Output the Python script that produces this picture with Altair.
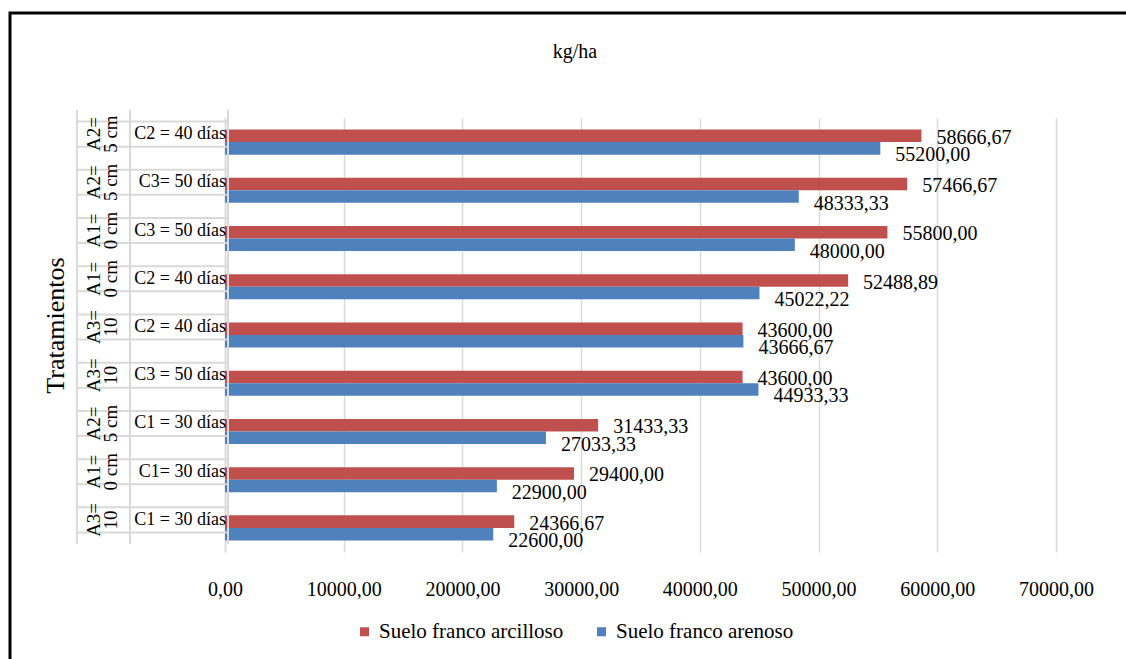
import altair as alt
import pandas as pd

FONT = "Liberation Serif, Times New Roman, serif"

rows = ["r1", "r2", "r3", "r4", "r5", "r6", "r7", "r8", "r9"]
a_labels = ["A2=\n5 cm", "A2=\n5 cm", "A1=\n0 cm", "A1=\n0 cm", "A3=\n10",
            "A3=\n10", "A2=\n5 cm", "A1=\n0 cm", "A3=\n10"]
c_labels = ["C2 = 40 días", "C3= 50 días", "C3 = 50 días", "C2 = 40 días",
            "C2 = 40 días", "C3 = 50 días", "C1 = 30 días", "C1= 30 días",
            "C1 = 30 días"]
series = ["Suelo franco arcilloso", "Suelo franco arenoso"]
arcilloso = [58666.67, 57466.67, 55800.00, 52488.89, 43600.00, 43600.00,
             31433.33, 29400.00, 24366.67]
arenoso = [55200.00, 48333.33, 48000.00, 45022.22, 43666.67, 44933.33,
           27033.33, 22900.00, 22600.00]
x_ticks = [0, 10000, 20000, 30000, 40000, 50000, 60000, 70000]
colors = ["#C0504D", "#4F81BD"]
title_text = ["kg/ha"]

recs = []
for i, r in enumerate(rows):
    for s, vals in zip(series, [arcilloso, arenoso]):
        v = vals[i]
        recs.append({"row": r, "series": s, "value": v,
                     "label": f"{v:.2f}".replace(".", ",")})
df = pd.DataFrame(recs)
table = pd.DataFrame({"row": rows, "a": a_labels, "c": c_labels})

ysort = rows
yscale = alt.Scale(paddingInner=0.48, paddingOuter=0.24)

base = alt.Chart(df)

bars = base.mark_bar().encode(
    x=alt.X("value:Q", scale=alt.Scale(domain=[0, 70000], nice=False),
            axis=alt.Axis(values=x_ticks, title=None, ticks=False, domain=False,
                          grid=True, gridColor="#d9d9d9", gridWidth=1.5,
                          labelExpr="replace(format(datum.value, '.2f'), '.', ',')",
                          labelFont=FONT, labelFontSize=20, labelColor="#000000",
                          labelPadding=27, labelFlush=False, labelOverlap=False)),
    y=alt.Y("row:N", sort=ysort, scale=yscale,
            axis=alt.Axis(title="Tratamientos", labels=False, ticks=False,
                          domain=True, domainColor="#d9d9d9", domainWidth=1.5,
                          titleFont=FONT, titleFontSize=26, titleFontWeight="normal",
                          titleColor="#000000", titleX=-170, titleY=207,
                          titleAngle=270, titleAlign="center",
                          titleBaseline="middle")),
    yOffset=alt.YOffset("series:N", sort=series,
                        scale=alt.Scale(paddingInner=0, paddingOuter=0)),
    color=alt.Color("series:N", sort=series,
                    scale=alt.Scale(domain=series, range=colors),
                    legend=alt.Legend(title=None, orient="none", direction="horizontal",
                                      legendX=129, legendY=503,
                                      symbolType="square", symbolSize=81,
                                      symbolStrokeWidth=0,
                                      labelFont=FONT, labelFontSize=21,
                                      labelColor="#000000", labelOffset=4,
                                      labelLimit=0, columnPadding=27)),
)

lab_red = base.transform_filter(alt.datum.series == series[0]).mark_text(
    align="left", baseline="middle", dx=15, dy=2, font=FONT, fontSize=20,
    color="#000000"
).encode(
    x="value:Q",
    y=alt.Y("row:N", sort=ysort),
    yOffset=alt.YOffset("series:N", sort=series),
    text="label:N",
)
lab_blue = base.transform_filter(alt.datum.series == series[1]).mark_text(
    align="left", baseline="middle", dx=15, dy=7, font=FONT, fontSize=20,
    color="#000000"
).encode(
    x="value:Q",
    y=alt.Y("row:N", sort=ysort),
    yOffset=alt.YOffset("series:N", sort=series),
    text="label:N",
)

tbase = alt.Chart(table)
hlines_top = tbase.mark_rule(color="#d9d9d9", strokeWidth=2, yOffset=-8).encode(
    y=alt.Y("row:N", sort=ysort, bandPosition=0),
    x=alt.value(-148), x2=alt.value(3),
)
hlines_bot = tbase.mark_rule(color="#d9d9d9", strokeWidth=2, yOffset=-8).encode(
    y=alt.Y("row:N", sort=ysort, bandPosition=1),
    x=alt.value(-148), x2=alt.value(3),
)
a_text = tbase.mark_text(angle=270, lineBreak="\n", align="center", baseline="middle",
                         font=FONT, fontSize=19, color="#000000", yOffset=-8,
                         lineHeight=17).encode(
    y=alt.Y("row:N", sort=ysort),
    x=alt.value(-131),
    text="a:N",
)
c_text = tbase.mark_text(align="right", baseline="middle", font=FONT, fontSize=18,
                         color="#000000", yOffset=-8).encode(
    y=alt.Y("row:N", sort=ysort),
    x=alt.value(1),
    text="c:N",
)

one = alt.Chart(pd.DataFrame({"t": title_text}))
vline1 = one.mark_rule(color="#d9d9d9", strokeWidth=2).encode(
    x=alt.value(-148), y=alt.value(-8), y2=alt.value(426))
vline2 = one.mark_rule(color="#d9d9d9", strokeWidth=2).encode(
    x=alt.value(-95), y=alt.value(-8), y2=alt.value(426))
vline3 = one.mark_rule(color="#d9d9d9", strokeWidth=2).encode(
    x=alt.value(3), y=alt.value(-8), y2=alt.value(426))
frame = one.mark_rect(fillOpacity=0, stroke="#000000", strokeWidth=3).encode(
    x=alt.value(-215), y=alt.value(-105), x2=alt.value(960), y2=alt.value(620))
title = one.mark_text(font=FONT, fontSize=20, color="#000000", align="center",
                      baseline="middle").encode(
    x=alt.value(350), y=alt.value(-66), text="t:N")

chart = alt.layer(
    frame, bars, lab_red, lab_blue, hlines_top, hlines_bot,
    vline1, vline2, vline3, a_text, c_text, title
).properties(
    width=831, height=434,
    padding={"left": 225, "top": 118, "right": 70, "bottom": 107},
    autosize=alt.AutoSizeParams(type="none"),
    background="#ffffff",
).configure_view(stroke=None)

chart.save("out.html", embed_options={"renderer": "svg", "actions": False})
